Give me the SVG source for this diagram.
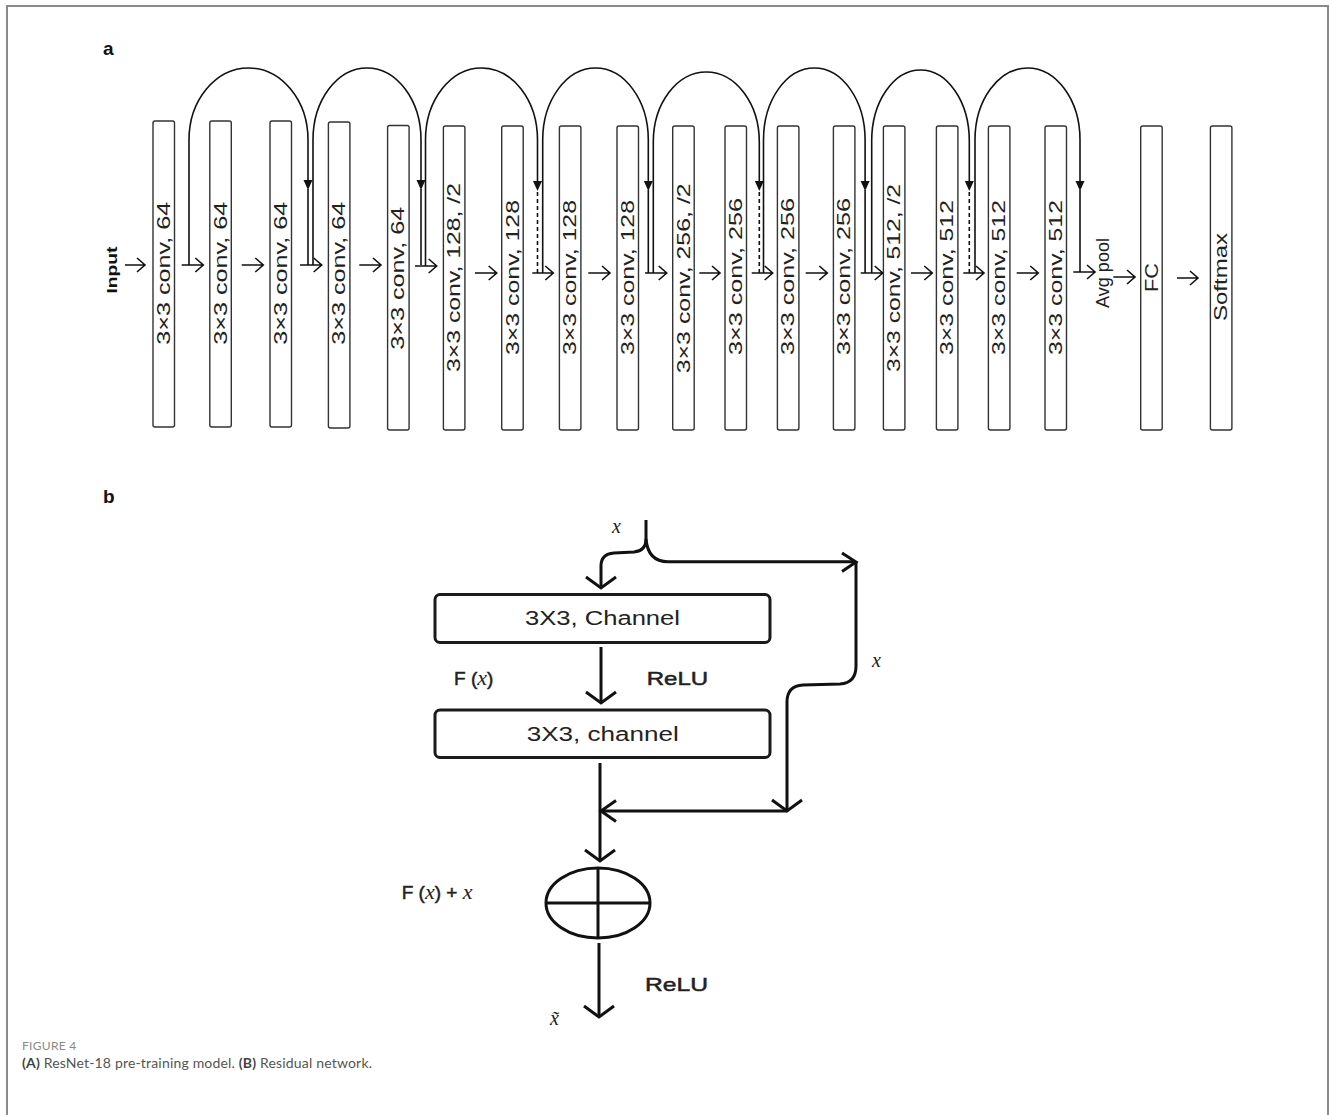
<svg xmlns="http://www.w3.org/2000/svg" width="1330" height="1115" viewBox="0 0 1330 1115">
<defs>
<style>
.frame{fill:none;stroke:#8a8a8a;stroke-width:2}
.box{fill:#fff;stroke:#333;stroke-width:1.4}
.bt{font-family:"Liberation Sans",Arial,sans-serif;font-size:18px;fill:#222}
.ln{fill:none;stroke:#111;stroke-width:1.6}
.dash{fill:none;stroke:#111;stroke-width:1.6;stroke-dasharray:4 3}
.head{fill:#111}
.lbl{font-family:"Liberation Sans",Arial,sans-serif;font-weight:bold;fill:#111}
.bx2{fill:#fff;stroke:#1a1a1a;stroke-width:3}
.ln2{fill:none;stroke:#111;stroke-width:3;stroke-linejoin:miter}
.t2{font-family:"Liberation Sans",Arial,sans-serif;font-size:20px;fill:#222}
.t3{font-family:"Liberation Sans",Arial,sans-serif;font-size:19px;fill:#222;stroke:#222;stroke-width:0.5}
.it{font-family:"Liberation Serif","Times New Roman",serif;font-style:italic;fill:#222;stroke:none}
.cap1{font-family:Lato,"Open Sans",sans-serif;font-size:12px;fill:#8a8a8a}
.cap2{font-family:Lato,"Open Sans",sans-serif;font-size:14px;fill:#555}
</style>
</defs>
<rect width="1330" height="1115" fill="#fff"/>
<path class="frame" d="M7,1115 L7,6 L1328,6 L1328,1115"/>

<text class="lbl" x="103" y="55" font-size="19">a</text>
<text class="lbl" x="103" y="503" font-size="19">b</text>

<g id="input"><text class="lbl" font-size="15" transform="translate(117,270) rotate(-90)" text-anchor="middle" textLength="47" lengthAdjust="spacingAndGlyphs">Input</text></g>

<g id="n1"><rect class="box" x="153" y="121" width="21.5" height="306" rx="2"/><text class="bt" transform="translate(163.8,273.3) rotate(-90)" text-anchor="middle" dominant-baseline="central" textLength="143" lengthAdjust="spacingAndGlyphs">3×3 conv, 64</text></g>
<g id="n2"><rect class="box" x="209.8" y="121" width="21.5" height="306" rx="2"/><text class="bt" transform="translate(220.5,273.3) rotate(-90)" text-anchor="middle" dominant-baseline="central" textLength="143" lengthAdjust="spacingAndGlyphs">3×3 conv, 64</text></g>
<g id="n3"><rect class="box" x="270" y="121" width="21.5" height="306" rx="2"/><text class="bt" transform="translate(280.8,273.3) rotate(-90)" text-anchor="middle" dominant-baseline="central" textLength="143" lengthAdjust="spacingAndGlyphs">3×3 conv, 64</text></g>
<g id="n4"><rect class="box" x="328.4" y="122" width="21.5" height="306" rx="2"/><text class="bt" transform="translate(339.2,273.3) rotate(-90)" text-anchor="middle" dominant-baseline="central" textLength="143" lengthAdjust="spacingAndGlyphs">3×3 conv, 64</text></g>
<g id="n5"><rect class="box" x="387.6" y="125.5" width="21.5" height="304.5" rx="2"/><text class="bt" transform="translate(398.3,278.3) rotate(-90)" text-anchor="middle" dominant-baseline="central" textLength="143" lengthAdjust="spacingAndGlyphs">3×3 conv, 64</text></g>
<g id="n6"><rect class="box" x="443.4" y="126" width="21.5" height="304" rx="2"/><text class="bt" transform="translate(454.2,277.5) rotate(-90)" text-anchor="middle" dominant-baseline="central" textLength="189" lengthAdjust="spacingAndGlyphs">3×3 conv, 128, /2</text></g>
<g id="n7"><rect class="box" x="501.7" y="126" width="21.5" height="304" rx="2"/><text class="bt" transform="translate(512.5,277.5) rotate(-90)" text-anchor="middle" dominant-baseline="central" textLength="155" lengthAdjust="spacingAndGlyphs">3×3 conv, 128</text></g>
<g id="n8"><rect class="box" x="559.4" y="126" width="21.5" height="304" rx="2"/><text class="bt" transform="translate(570.2,277.5) rotate(-90)" text-anchor="middle" dominant-baseline="central" textLength="155" lengthAdjust="spacingAndGlyphs">3×3 conv, 128</text></g>
<g id="n9"><rect class="box" x="617" y="126" width="21.5" height="304" rx="2"/><text class="bt" transform="translate(627.8,277.5) rotate(-90)" text-anchor="middle" dominant-baseline="central" textLength="155" lengthAdjust="spacingAndGlyphs">3×3 conv, 128</text></g>
<g id="n10"><rect class="box" x="672.7" y="126" width="21.5" height="304" rx="2"/><text class="bt" transform="translate(683.5,278.3) rotate(-90)" text-anchor="middle" dominant-baseline="central" textLength="190" lengthAdjust="spacingAndGlyphs">3×3 conv, 256, /2</text></g>
<g id="n11"><rect class="box" x="725" y="126" width="21.5" height="304" rx="2"/><text class="bt" transform="translate(735.8,276.5) rotate(-90)" text-anchor="middle" dominant-baseline="central" textLength="157" lengthAdjust="spacingAndGlyphs">3×3 conv, 256</text></g>
<g id="n12"><rect class="box" x="777.4" y="126" width="21.5" height="304" rx="2"/><text class="bt" transform="translate(788.2,276.5) rotate(-90)" text-anchor="middle" dominant-baseline="central" textLength="157" lengthAdjust="spacingAndGlyphs">3×3 conv, 256</text></g>
<g id="n13"><rect class="box" x="833.4" y="126" width="21.5" height="304" rx="2"/><text class="bt" transform="translate(844.2,276.5) rotate(-90)" text-anchor="middle" dominant-baseline="central" textLength="157" lengthAdjust="spacingAndGlyphs">3×3 conv, 256</text></g>
<g id="n14"><rect class="box" x="883.4" y="126" width="21.5" height="304" rx="2"/><text class="bt" transform="translate(894.2,278) rotate(-90)" text-anchor="middle" dominant-baseline="central" textLength="188" lengthAdjust="spacingAndGlyphs">3×3 conv, 512, /2</text></g>
<g id="n15"><rect class="box" x="936.4" y="126" width="21.5" height="304" rx="2"/><text class="bt" transform="translate(947.2,277.5) rotate(-90)" text-anchor="middle" dominant-baseline="central" textLength="155" lengthAdjust="spacingAndGlyphs">3×3 conv, 512</text></g>
<g id="n16"><rect class="box" x="988.4" y="126" width="21.5" height="304" rx="2"/><text class="bt" transform="translate(999.2,277.5) rotate(-90)" text-anchor="middle" dominant-baseline="central" textLength="155" lengthAdjust="spacingAndGlyphs">3×3 conv, 512</text></g>
<g id="n17"><rect class="box" x="1045" y="126" width="21.5" height="304" rx="2"/><text class="bt" transform="translate(1055.8,277.5) rotate(-90)" text-anchor="middle" dominant-baseline="central" textLength="155" lengthAdjust="spacingAndGlyphs">3×3 conv, 512</text></g>
<g id="avgpool"><text class="bt" font-size="12" transform="translate(1102.5,273) rotate(-90)" text-anchor="middle" dominant-baseline="central" textLength="70" lengthAdjust="spacingAndGlyphs">Avg pool</text></g>
<g id="fc"><rect class="box" x="1140.7" y="126" width="21.5" height="304" rx="2"/><text class="bt" transform="translate(1151.5,277.5) rotate(-90)" text-anchor="middle" dominant-baseline="central" textLength="29" lengthAdjust="spacingAndGlyphs">FC</text></g>
<g id="softmax"><rect class="box" x="1210.4" y="126" width="21.5" height="304" rx="2"/><text class="bt" transform="translate(1221.2,277) rotate(-90)" text-anchor="middle" dominant-baseline="central" textLength="88" lengthAdjust="spacingAndGlyphs">Softmax</text></g>

<g id="connectors-a">
<path class="ln" d="M125,265 H145 M137,258 L145,265 L137,272"/>
<path class="ln" d="M181.7,265 H203.3 M195.3,258 L203.3,265 L195.3,272"/>
<path class="ln" d="M241.7,265 H263.3 M255.3,258 L263.3,265 L255.3,272"/>
<path class="ln" d="M300,265 H321.7 M313.7,258 L321.7,265 L313.7,272"/>
<path class="ln" d="M359.3,265 H381 M373,258 L381,265 L373,272"/>
<path class="ln" d="M415,266 H436.7 M428.7,259 L436.7,266 L428.7,273"/>
<path class="ln" d="M475,273 H496.7 M488.7,266 L496.7,273 L488.7,280"/>
<path class="ln" d="M532.3,273 H553.3 M545.3,266 L553.3,273 L545.3,280"/>
<path class="ln" d="M588.3,273 H610 M602,266 L610,273 L602,280"/>
<path class="ln" d="M645,273 H666.7 M658.7,266 L666.7,273 L658.7,280"/>
<path class="ln" d="M699.3,273 H720 M712,266 L720,273 L712,280"/>
<path class="ln" d="M751.7,273 H772.7 M764.7,266 L772.7,273 L764.7,280"/>
<path class="ln" d="M805.7,273 H827.3 M819.3,266 L827.3,273 L819.3,280"/>
<path class="ln" d="M860.7,273 H882.7 M874.7,266 L882.7,273 L874.7,280"/>
<path class="ln" d="M911,273 H932.3 M924.3,266 L932.3,273 L924.3,280"/>
<path class="ln" d="M963.3,273 H984 M976,266 L984,273 L976,280"/>
<path class="ln" d="M1016.7,273 H1038.3 M1030.3,266 L1038.3,273 L1030.3,280"/>
<path class="ln" d="M1073.3,272 H1095 M1087,265 L1095,272 L1087,279"/>
<path class="ln" d="M1113.3,277 H1135 M1127,270 L1135,277 L1127,284"/>
<path class="ln" d="M1177,278 H1198 M1190,271 L1198,278 L1190,285"/>

<path class="ln" d="M189,265 V140 A59.5,72 0 0 1 308,140 V181"/>
<path class="head" d="M303.5,180 L312.5,180 L308,190 Z"/>
<path class="ln" d="M308,189 V265"/>

<path class="ln" d="M313,265 V140 A54,72 0 0 1 421,140 V181"/>
<path class="head" d="M416.5,180 L425.5,180 L421,190 Z"/>
<path class="ln" d="M421,189 V265"/>

<path class="ln" d="M425.5,266 V140 A56,72 0 0 1 537.5,140 V181"/>
<path class="head" d="M533,181 L542,181 L537.5,191 Z"/>
<path class="dash" d="M537.5,192 V273"/>

<path class="ln" d="M542.7,273 V140 A52.8,72 0 0 1 648.3,140 V181"/>
<path class="head" d="M643.8,181 L652.8,181 L648.3,191 Z"/>
<path class="ln" d="M648.3,190 V273"/>

<path class="ln" d="M653.3,273 V142 A53,70 0 0 1 759.3,142 V181"/>
<path class="head" d="M754.8,181 L763.8,181 L759.3,191 Z"/>
<path class="dash" d="M759.3,192 V273"/>

<path class="ln" d="M763.5,273 V140 A50.8,72 0 0 1 865.1,140 V181"/>
<path class="head" d="M860.6,181 L869.6,181 L865.1,191 Z"/>
<path class="ln" d="M865.1,190 V273"/>

<path class="ln" d="M871.7,273 V141 A48.8,71 0 0 1 969.3,141 V181"/>
<path class="head" d="M964.8,181 L973.8,181 L969.3,191 Z"/>
<path class="dash" d="M969.3,192 V273"/>

<path class="ln" d="M975,273 V140 A52.5,72 0 0 1 1080,140 V181"/>
<path class="head" d="M1075.5,181 L1084.5,181 L1080,191 Z"/>
<path class="ln" d="M1080,190 V272"/>
</g>

<g id="b-conv1"><rect class="bx2" x="435" y="594.5" width="335" height="48" rx="5"/><text class="t2" x="525" y="625" textLength="155" lengthAdjust="spacingAndGlyphs">3X3, Channel</text></g>
<g id="b-conv2"><rect class="bx2" x="435" y="710" width="335" height="47.5" rx="5"/><text class="t2" x="526.7" y="741" textLength="152" lengthAdjust="spacingAndGlyphs">3X3, channel</text></g>
<g id="b-add"><ellipse class="ln2" cx="598" cy="903" rx="52" ry="35"/><path class="ln2" d="M546,903 H650 M598,868 V938"/></g>

<g id="b-labels">
<text class="it" x="612" y="533" font-size="20">x</text>
<text class="it" x="872" y="667" font-size="20">x</text>
<text class="t3" x="454" y="685" font-size="20">F (<tspan class="it" font-size="22">x</tspan>)</text>
<text class="t3" x="646.7" y="685" textLength="61.5" lengthAdjust="spacingAndGlyphs">ReLU</text>
<text class="t3" x="401.7" y="899" font-size="20">F (<tspan class="it" font-size="22">x</tspan>) + <tspan class="it" font-size="22">x</tspan></text>
<text class="t3" x="645" y="991" textLength="63" lengthAdjust="spacingAndGlyphs">ReLU</text>
<text class="it" x="550" y="1025" font-size="20">x̃</text>
</g>

<g id="connectors-b">
<path class="ln2" d="M646,520 V539 Q646,551 634,552 L614,553 Q601,554 601,566 V587"/>
<path class="ln2" d="M586,577 L601,588 L616,577"/>
<path class="ln2" d="M646,539 Q648,561.7 668,561.7 H855"/>
<path class="ln2" d="M842,553 L856,562 L842,571.5"/>
<path class="ln2" d="M856,562 V666 Q856,683 840,684 L803,685 Q787,686 787,702 V810"/>
<path class="ln2" d="M772,800 L787,811 L802,800"/>
<path class="ln2" d="M787,811 H601"/>
<path class="ln2" d="M616,800.5 L601,811 L616,821.5"/>
<path class="ln2" d="M601,647 V702"/>
<path class="ln2" d="M586,692 L601,703 L616,692"/>
<path class="ln2" d="M600,763 V860"/>
<path class="ln2" d="M585,850 L600,861 L615,850"/>
<path class="ln2" d="M599,943 V1016"/>
<path class="ln2" d="M584,1006 L599,1017 L614,1006"/>
</g>

<text class="cap1" x="22" y="1050" letter-spacing="0.3">FIGURE 4</text>
<text class="cap2" x="22" y="1068" textLength="350"><tspan font-weight="bold" fill="#444">(A)</tspan> ResNet-18 pre-training model. <tspan font-weight="bold" fill="#444">(B)</tspan> Residual network.</text>
</svg>
